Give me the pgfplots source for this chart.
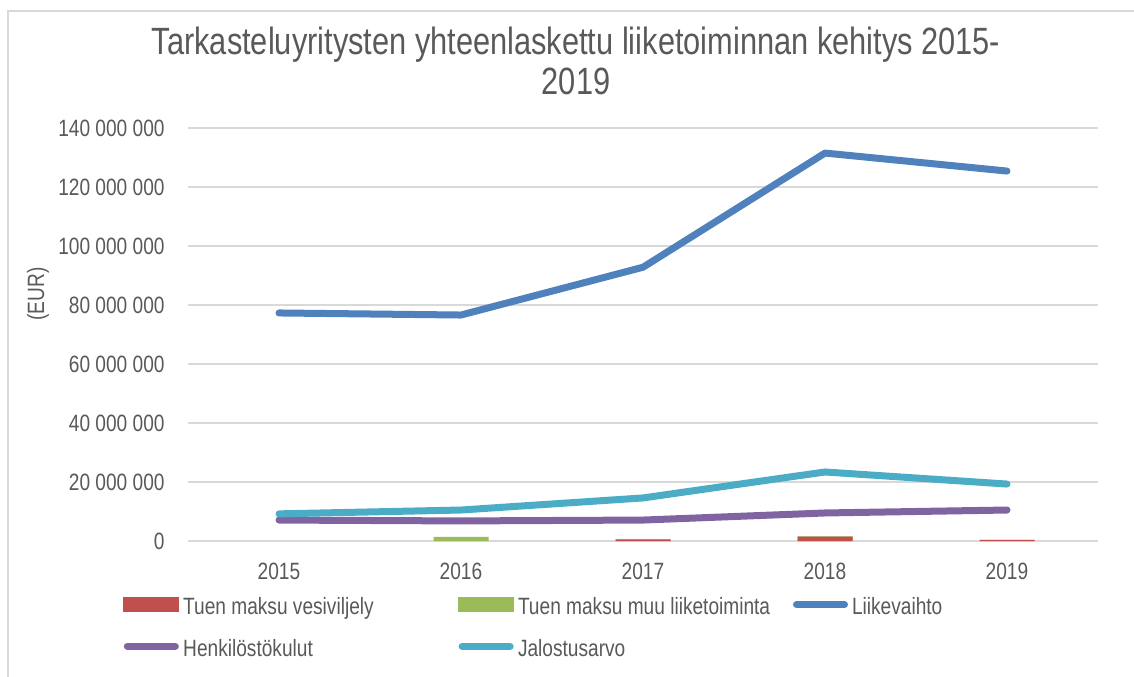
\documentclass[border=0pt]{standalone}
\usepackage{pgfplots}
\pgfplotsset{compat=1.18}
\usepackage{fontspec}
\setmainfont{Liberation Sans}[FakeStretch=0.81]
\definecolor{txt}{HTML}{595959}
\definecolor{gridc}{HTML}{D9D9D9}
\definecolor{cred}{HTML}{C0504D}
\definecolor{cgreen}{HTML}{9BBB59}
\definecolor{cblue}{HTML}{4F81BD}
\definecolor{cpurple}{HTML}{8064A2}
\definecolor{ccyan}{HTML}{4BACC6}
\newcommand{\lt}[1]{\makebox[135.5bp][l]{\rule[-3.2bp]{0pt}{15bp}#1}}
\begin{document}
\begin{tikzpicture}
\useasboundingbox (0,0) rectangle (567bp,338.5bp);
\draw[gridc, line width=0.75bp] (4bp,0) -- (4bp,333bp) -- (567bp,333bp);
\begin{axis}[
  at={(94bp,68bp)}, anchor=south west,
  scale only axis, width=455bp, height=206.5bp,
  xmin=-0.5, xmax=4.5, ymin=0, ymax=140000000,
  scaled y ticks=false,
  xtick={0,1,2,3,4}, xticklabels={2015,2016,2017,2018,2019},
  ytick={0,20000000,40000000,60000000,80000000,100000000,120000000,140000000},
  yticklabels={0,20 000 000,40 000 000,60 000 000,80 000 000,100 000 000,120 000 000,140 000 000},
  axis line style={draw=none}, major tick length=0pt,
  ymajorgrids, major grid style={gridc, line width=0.75bp},
  tick label style={font=\fontsize{11.8bp}{14bp}\selectfont, text=txt, inner sep=0pt},
  yticklabel style={anchor=east, xshift=-11.5bp},
  xticklabel style={anchor=north, yshift=-11bp},
  ylabel={(EUR)},
  ylabel style={at={(axis description cs:-0.1648,0.598)}, anchor=center, font=\fontsize{11.8bp}{14bp}\selectfont, text=txt, inner sep=0pt},
  title={Tarkasteluyritysten yhteenlaskettu liiketoiminnan kehitys 2015-\\2019},
  title style={at={(axis description cs:0.4264,1.2155)}, anchor=north, align=center, font=\fontsize{19bp}{20bp}\selectfont, text=txt, inner sep=0pt},
  clip=false,
  legend style={at={(axis description cs:-0.0714,-0.121)}, anchor=north west, draw=none, fill=none, inner sep=0pt, legend columns=3, column sep=2bp, row sep=7.5bp, font=\fontsize{11.8bp}{14bp}\selectfont, text=txt, nodes={inner sep=0pt}},
  legend cell align=left,
]
% bars (green drawn first; red stacked visually in front at the base)
\addplot[ybar, bar width=27.5bp, bar shift=0pt, fill=cgreen, draw=none, forget plot]
  coordinates {(1,1400000) (2,650000) (3,1600000) (4,420000)};
\addplot[ybar, bar width=27.5bp, bar shift=0pt, fill=cred, draw=none, forget plot]
  coordinates {(2,450000) (3,1500000) (4,350000)};
% lines
\addplot[cblue, line width=3.5bp, line cap=round, line join=round, forget plot]
  coordinates {(0,77300000) (1,76600000) (2,92800000) (3,131500000) (4,125400000)};
\addplot[cpurple, line width=3.5bp, line cap=round, line join=round, forget plot]
  coordinates {(0,7100000) (1,6800000) (2,7100000) (3,9500000) (4,10500000)};
\addplot[ccyan, line width=3.5bp, line cap=round, line join=round, forget plot]
  coordinates {(0,9200000) (1,10500000) (2,14600000) (3,23400000) (4,19300000)};
% legend
\addlegendimage{legend image code/.code={\fill[cred] (0bp,-3.5bp) rectangle (27.5bp,3.5bp);}}
\addlegendentry{\lt{Tuen maksu vesiviljely}}
\addlegendimage{legend image code/.code={\fill[cgreen] (0bp,-3.5bp) rectangle (27.5bp,3.5bp);}}
\addlegendentry{\lt{Tuen maksu muu liiketoiminta}}
\addlegendimage{legend image code/.code={\draw[cblue, line width=3.5bp, line cap=round] (1.75bp,0bp) -- (25.75bp,0bp);}}
\addlegendentry{\lt{Liikevaihto}}
\addlegendimage{legend image code/.code={\draw[cpurple, line width=3.5bp, line cap=round] (1.75bp,0bp) -- (25.75bp,0bp);}}
\addlegendentry{\lt{Henkilöstökulut}}
\addlegendimage{legend image code/.code={\draw[ccyan, line width=3.5bp, line cap=round] (1.75bp,0bp) -- (25.75bp,0bp);}}
\addlegendentry{\lt{Jalostusarvo}}
\end{axis}
\end{tikzpicture}
\end{document}
